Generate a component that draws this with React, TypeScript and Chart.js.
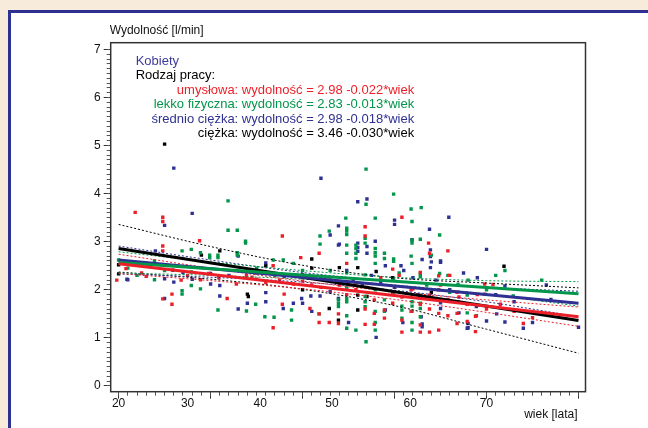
import React, { useEffect, useRef } from "react";
import { Chart, registerables } from "chart.js";

Chart.register(...registerables);

// ---------- axis / text ----------
const yAxisTitle = "Wydolność [l/min]";
const xAxisTitle = "wiek [lata]";
const xTickLabels = ["20", "30", "40", "50", "60", "70"];
const xTickLabelAt = [20, 27.5, 35.4, 43.2, 51.7, 60.0];
const xMajorTicks = [20, 30, 40, 50, 60, 70];
const yMajorTicks = [0, 1, 2, 3, 4, 5, 6, 7];
const xRange = [19.14, 70.76];
const yRange = [-0.12, 7.14];

const legendHeader = "Kobiety";
const legendSub = "Rodzaj pracy:";
const equations = [
  "umysłowa: wydolność = 2.98 -0.022*wiek",
  "lekko fizyczna: wydolność = 2.83 -0.013*wiek",
  "średnio ciężka: wydolność = 2.98 -0.018*wiek",
  "ciężka: wydolność = 3.46 -0.030*wiek",
];

const colRed = "#ec1f28";
const colGreen = "#02964a";
const colBlue = "#2e3192";
const colBlack = "#000000";
const groupColors = [colRed, colGreen, colBlue, colBlack];

// ---------- regression lines ----------
const lineAges = [20, 70];
const fitUmyslowa = [2.54, 1.44];
const fitLekko = [2.57, 1.92];
const fitSrednio = [2.62, 1.72];
const fitCiezka = [2.86, 1.36];

// ---------- confidence bands ----------
const bandAges = [20, 30, 40, 50, 60, 70];
const umyslowaUpper = [2.74, 2.45, 2.18, 1.96, 1.79, 1.64];
const umyslowaLower = [2.34, 2.19, 2.02, 1.8, 1.53, 1.24];
const lekkoUpper = [2.79, 2.58, 2.4, 2.26, 2.19, 2.17];
const lekkoLower = [2.35, 2.3, 2.22, 2.1, 1.91, 1.66];
const srednioUpper = [2.91, 2.62, 2.36, 2.17, 2.05, 1.97];
const srednioLower = [2.33, 2.26, 2.16, 1.99, 1.75, 1.44];
const ciezkaUpper = [3.36, 2.9, 2.51, 2.25, 2.14, 2.04];
const ciezkaLower = [2.37, 2.22, 2.01, 1.67, 1.18, 0.68];

// ---------- observations [age, capacity] ----------
const umyslowaPts: number[][] = [
  [19.8, 2.2], [20.8, 2.44], [21.8, 3.61], [22.5, 2.35], [23, 2.28], [24.8, 3.51], [24.8, 3.42],
  [24.8, 2.91], [24.8, 2.81], [24.8, 1.81], [25.8, 1.91], [25.8, 1.7], [26.8, 2.2], [27.5, 2.3],
  [28.8, 3.02], [28.9, 2.21], [29.8, 2.34], [30.9, 2.25], [31.8, 1.82], [32.8, 2.12], [33.9, 2.3],
  [34.5, 2.26], [35, 2.22], [36, 2.15], [36.8, 2.5], [36.8, 1.21], [37.5, 2.2], [37.8, 3.12],
  [37.8, 1.7], [38, 1.91], [39, 2.12], [39.8, 2.67], [40, 2.18], [40.8, 1.61], [41, 2.1],
  [41.8, 2.76], [41.8, 1.32], [41.8, 1.5], [42, 2.05], [42.9, 1.32], [43, 2.2], [43.9, 1.3],
  [43.9, 1.5], [44, 2.1], [44.8, 2.55], [44.8, 1.9], [45.8, 2.0], [45.8, 2.15], [46.8, 3.31],
  [46.8, 3.12], [46.8, 1.6], [46.8, 1.28], [47, 2.05], [47.8, 1.79], [47.8, 1.51], [47.8, 1.28],
  [48.5, 2.25], [48.9, 1.58], [48.9, 1.41], [49.8, 2.43], [49.8, 1.95], [49.8, 1.72], [50.5, 2.3],
  [50.8, 3.51], [50.8, 1.85], [50.8, 1.37], [50.8, 1.12], [51.8, 2.0], [51.8, 1.55], [52, 2.02],
  [52.8, 2.36], [52.8, 1.7], [52.8, 1.27], [52.8, 1.12], [53.7, 2.97], [53.8, 2.76], [53.8, 1.89],
  [53.8, 1.6], [53.8, 1.12], [54.8, 2.29], [54.8, 2.0], [54.8, 1.51], [54.8, 1.16], [55, 2.1],
  [55.8, 2.81], [55.8, 1.8], [55.8, 1.46], [56, 2.3], [56.8, 1.95], [56.8, 1.51], [56.8, 1.3],
  [57, 1.85], [57.9, 1.7], [57.9, 1.34], [58.8, 1.45], [58.8, 1.13], [59, 1.9], [59.8, 2.12],
  [59.8, 1.91], [60, 1.6], [60.7, 2.11], [61.5, 1.7], [63, 1.55], [64, 1.3], [65, 1.42],
];

const lekkoPts: number[][] = [
  [20, 2.62], [21, 2.45], [22, 2.3], [23.9, 2.6], [23.9, 2.21], [25, 2.4], [26.9, 2.81], [26.9, 1.91],
  [26.9, 1.98], [27.9, 2.84], [27.9, 2.37], [27.9, 2.09], [28.9, 2.77], [28.9, 2.02], [29.9, 2.72],
  [29.9, 2.67], [30.8, 2.72], [30.8, 2.67], [30.8, 1.58], [31.9, 3.85], [31.9, 3.24], [32.9, 3.24],
  [32.9, 2.77], [32.9, 2.72], [33.8, 3.01], [33.8, 2.97], [33.9, 1.56], [34.9, 1.7], [35, 2.45],
  [35.9, 1.44], [36.8, 2.62], [36.9, 1.43], [37, 2.3], [37.9, 2.62], [38.8, 1.58], [38.8, 1.37],
  [39, 2.55], [40, 2.4], [41.9, 3.12], [41.9, 2.95], [41.8, 1.5], [42.9, 3.22], [43, 2.4],
  [43.9, 1.79], [43.9, 1.72], [43.9, 1.65], [44.7, 3.49], [44.8, 3.28], [44.8, 3.22], [44.8, 3.15],
  [44.8, 2.93], [44.8, 2.76], [44.8, 2.36], [44.8, 2.04], [44.8, 1.82], [44.8, 1.75], [44.8, 1.46],
  [44.8, 1.2], [45.8, 2.93], [45.8, 2.86], [45.8, 2.76], [45.8, 2.65], [45.8, 1.16], [46.9, 4.51],
  [46.9, 3.78], [46.8, 3.07], [46.8, 2.97], [46.8, 2.31], [46.8, 1.86], [46.8, 1.75], [46.8, 1.65],
  [46.9, 0.92], [47.9, 3.49], [47.9, 2.86], [47.9, 2.77], [47.9, 2.7], [47.9, 2.55], [47.9, 2.0],
  [47.9, 1.55], [47.9, 1.32], [47.9, 1.16], [48.9, 2.76], [48.9, 2.65], [48.9, 1.79], [48.9, 1.55],
  [49.9, 3.99], [49.9, 2.64], [49.9, 2.59], [49.9, 2.2], [49.9, 1.95], [50.5, 2.35], [50.8, 1.66],
  [50.8, 1.58], [50.8, 1.41], [51.8, 3.68], [51.9, 3.42], [51.9, 3.03], [51.9, 2.97], [51.8, 2.7],
  [51.9, 2.55], [51.9, 1.75], [51.9, 1.66], [51.9, 1.55], [51.9, 1.32], [51.9, 1.16], [52.9, 3.71],
  [52.8, 3.05], [52.8, 2.34], [52.8, 2.27], [52.8, 1.89], [52.8, 1.72], [52.8, 1.61], [52.8, 1.44],
  [53.5, 2.1], [54, 2.72], [54.9, 3.14], [54.9, 2.34], [55.8, 2.3], [56, 1.95], [56.9, 2.11],
  [57.9, 1.89], [57.9, 1.52], [58, 2.2], [58.9, 1.46], [60, 2.0], [61, 2.3], [62, 2.4], [62.9, 1.87],
  [66, 2.2],
];

const srednioPts: number[][] = [
  [20.9, 2.22], [21, 2.21], [24, 2.81], [25, 3.34], [25, 2.23], [25, 1.82], [26, 4.53], [26, 2.16],
  [27, 2.36], [28, 3.59], [28, 2.22], [30, 2.34], [30, 2.12], [31, 2.09], [31, 1.87], [32, 2.3],
  [33, 2.7], [33, 1.6], [34, 1.72], [35, 2.35], [36, 2.56], [36, 1.94], [36, 1.75], [37.9, 1.61],
  [38, 2.28], [39, 1.72], [39.9, 1.82], [40, 1.72], [40.9, 1.87], [41, 1.55], [41.9, 1.87], [42, 4.32],
  [42, 2.25], [43, 3.14], [43, 1.96], [43.9, 3.33], [43.9, 2.93], [44, 2.95], [43.9, 1.82], [44.8, 2.4],
  [45, 1.32], [45.5, 2.2], [46, 3.83], [46, 2.97], [46, 2.88], [46, 2.8], [46.5, 2.1], [47, 3.89],
  [47, 2.9], [47, 2.76], [47.5, 2.3], [47.9, 3.01], [48, 1.01], [48.5, 2.15], [49, 2.5], [49, 1.58],
  [50, 3.45], [50, 3.36], [50, 2.05], [50.7, 2.5], [50.9, 1.32], [51, 2.4], [51.9, 3.04], [52, 2.25],
  [52.5, 1.9], [52.9, 1.44], [53, 2.63], [53, 1.29], [53, 1.23], [53.8, 3.26], [53.9, 2.83],
  [53.9, 2.69], [54, 2.58], [53.9, 2.46], [54.5, 2.2], [55, 2.6], [55, 2.57], [55, 1.73], [55, 1.61],
  [55.9, 3.51], [56, 2.0], [56.9, 1.75], [57, 1.52], [57.5, 2.35], [57.9, 1.2], [58, 1.3], [58, 1.21],
  [58.9, 1.65], [59, 2.25], [60, 2.84], [60, 1.35], [61, 1.9], [61.1, 1.5], [62, 2.08], [62, 1.33],
  [63, 1.75], [64, 1.2], [65, 1.32], [66.5, 2.1], [67, 1.8], [70, 1.22],
];

const ciezkaPts: number[][] = [
  [20, 2.52], [20, 2.33], [25, 5.03], [25.9, 2.41], [29, 2.72], [31, 2.81], [34, 1.91], [34.1, 1.86],
  [36, 2.5], [40, 2.31], [40, 2.0], [41, 2.45], [41, 2.64], [42.9, 1.61], [43, 2.2], [43.9, 1.37],
  [44, 2.46], [46, 2.46], [46, 1.89], [46, 1.58], [47, 1.86], [48, 2.38], [49.8, 2.25], [50, 2.05],
  [52.9, 1.86], [54, 1.94], [61.9, 2.49],
];

const FONT = '"Liberation Sans", Arial, Helvetica, sans-serif';

const toXY = (xs: number[], ys: number[]) => xs.map((x, i) => ({ x, y: ys[i] }));
const toPts = (arr: number[][]) => arr.map(([x, y]) => ({ x, y }));

export default function App() {
  const ref = useRef<HTMLCanvasElement | null>(null);

  useEffect(() => {
    if (!ref.current) return;

    const minorX: number[] = [];
    for (let a = xMajorTicks[0]; a <= xMajorTicks[xMajorTicks.length - 1]; a += 1) minorX.push(a);
    const minorY: number[] = [];
    for (let k = 0; k <= 70; k++) minorY.push(k / 10);

    const fits = [fitUmyslowa, fitLekko, fitSrednio, fitCiezka];
    const uppers = [umyslowaUpper, lekkoUpper, srednioUpper, ciezkaUpper];
    const lowers = [umyslowaLower, lekkoLower, srednioLower, ciezkaLower];
    const pts = [umyslowaPts, lekkoPts, srednioPts, ciezkaPts];

    const datasets: any[] = [];
    fits.forEach((f, i) => {
      datasets.push({
        data: toXY(lineAges, f),
        showLine: true,
        borderColor: groupColors[i],
        borderWidth: 3,
        pointRadius: 0,
        order: 0,
      });
    });
    [uppers, lowers].forEach((set) =>
      set.forEach((b, i) => {
        datasets.push({
          data: toXY(bandAges, b),
          showLine: true,
          borderColor: groupColors[i],
          borderWidth: 1,
          borderDash: [2, 2],
          pointRadius: 0,
          cubicInterpolationMode: "monotone",
          order: 1,
        });
      })
    );
    pts.forEach((p, i) => {
      datasets.push({
        data: toPts(p),
        pointStyle: "rect",
        pointRadius: 2.4,
        pointBorderWidth: 0,
        backgroundColor: groupColors[i],
        borderColor: groupColors[i],
        borderWidth: 0,
        order: 2,
      });
    });

    const decor = {
      id: "decor",
      afterDraw(chart: any) {
        const { ctx, chartArea: a } = chart;
        ctx.save();
        ctx.strokeStyle = "#333";
        ctx.lineWidth = 1.5;
        ctx.strokeRect(a.left, a.top, a.right - a.left, a.bottom - a.top);

        ctx.fillStyle = "#111";
        ctx.textBaseline = "middle";
        ctx.font = `12px ${FONT}`;
        ctx.textAlign = "left";
        ctx.fillText(yAxisTitle, a.left - 1, a.top - 12);
        ctx.textAlign = "right";
        ctx.fillText(xAxisTitle, a.right - 8, a.bottom + 23);

        ctx.font = `13px ${FONT}`;
        ctx.textAlign = "left";
        ctx.fillStyle = "#3c3c9c";
        ctx.fillText(legendHeader, a.left + 25, a.top + 18.5);
        ctx.fillStyle = "#000";
        ctx.fillText(legendSub, a.left + 25, a.top + 33);
        ctx.textAlign = "right";
        equations.forEach((t, i) => {
          ctx.fillStyle = groupColors[i];
          ctx.fillText(t, a.left + 303.5, a.top + 47.5 + i * 14.4);
        });
        ctx.restore();
      },
    };

    const baseX = { type: "linear", position: "bottom", min: xRange[0], max: xRange[1] };
    const baseY = { type: "linear", position: "left", min: yRange[0], max: yRange[1] };

    const chart = new Chart(ref.current, {
      type: "scatter",
      data: { datasets },
      options: {
        responsive: false,
        animation: false,
        events: [],
        layout: { padding: { left: 0, top: 42.7, right: 62.5, bottom: 0 } },
        plugins: { legend: { display: false }, tooltip: { enabled: false }, title: { display: false } },
        scales: {
          x: {
            ...baseX,
            weight: 1,
            afterFit: (s: any) => { s.height = 0; },
            afterBuildTicks: (s: any) => { s.ticks = xMajorTicks.map((v) => ({ value: v })); },
            grid: { drawOnChartArea: false, drawTicks: true, tickLength: 7, color: "#333", lineWidth: 1 },
            border: { display: false },
            ticks: { display: false },
          },
          xm: {
            ...baseX,
            weight: 0,
            afterFit: (s: any) => { s.height = 0; },
            afterBuildTicks: (s: any) => { s.ticks = minorX.map((v) => ({ value: v })); },
            grid: { drawOnChartArea: false, drawTicks: true, tickLength: 4, color: "#555", lineWidth: 1 },
            border: { display: false },
            ticks: { display: false },
          },
          xl: {
            ...baseX,
            weight: 2,
            afterFit: (s: any) => { s.height = 36.3; },
            afterBuildTicks: (s: any) => { s.ticks = xTickLabelAt.map((v) => ({ value: v })); },
            grid: { display: false, drawOnChartArea: false, drawTicks: false },
            border: { display: false },
            ticks: {
              padding: 5,
              maxRotation: 0,
              autoSkip: false,
              color: "#111",
              font: { family: FONT, size: 12 },
              callback: (_v: any, i: number) => xTickLabels[i],
            },
          },
          y: {
            ...baseY,
            weight: 1,
            afterFit: (s: any) => { s.width = 110.7; },
            afterBuildTicks: (s: any) => { s.ticks = yMajorTicks.map((v) => ({ value: v })); },
            grid: { drawOnChartArea: false, drawTicks: true, tickLength: 7, color: "#333", lineWidth: 1 },
            border: { display: false },
            ticks: {
              padding: 3,
              color: "#111",
              font: { family: FONT, size: 12 },
              callback: (v: any) => String(v),
            },
          },
          ym: {
            ...baseY,
            weight: 0,
            afterFit: (s: any) => { s.width = 0; },
            afterBuildTicks: (s: any) => { s.ticks = minorY.map((v) => ({ value: v })); },
            grid: { drawOnChartArea: false, drawTicks: true, tickLength: 4, color: "#555", lineWidth: 1 },
            border: { display: false },
            ticks: { display: false },
          },
        },
      } as any,
      plugins: [decor],
    });

    return () => chart.destroy();
  }, []);

  return (
    <div
      style={{
        position: "fixed",
        left: 0,
        top: 0,
        width: 648,
        height: 428,
        background: "#f7ebdb",
        overflow: "hidden",
      }}
    >
      <div
        style={{
          position: "absolute",
          left: 8,
          top: 10,
          width: 1000,
          height: 1000,
          background: "#ffffff",
          borderTop: "3px solid #2e3192",
          borderLeft: "3px solid #2e3192",
        }}
      />
      <canvas
        ref={ref}
        width={648}
        height={428}
        style={{ position: "absolute", left: 0, top: 0, width: 648, height: 428 }}
      />
    </div>
  );
}
